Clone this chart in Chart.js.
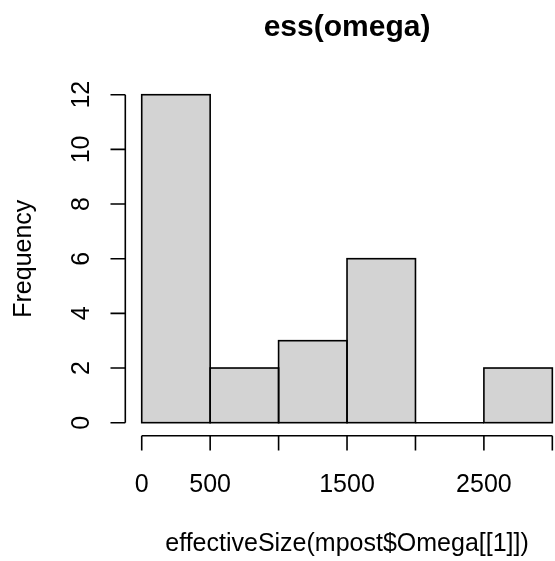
<!DOCTYPE html>
<html>
<head>
<meta charset="utf-8">
<script src="https://cdn.jsdelivr.net/npm/chart.js@4"></script>
<style>
    html, body { margin: 0; padding: 0; background: #fff; }
    #wrap { width: 555px; height: 561px; }
</style>
</head>
<body>
<div id="wrap"><canvas id="histChart" width="555" height="561"></canvas></div>
<script>
// histogram data
const binEdges = [0, 500, 1000, 1500, 2000, 2500, 3000];
const counts = [12, 2, 3, 6, 0, 2];
const xTicks = [0, 500, 1000, 1500, 2000, 2500, 3000];
const xTickLabels = ['0', '500', '', '1500', '', '2500', ''];
const yTicks = [0, 2, 4, 6, 8, 10, 12];
const titleText = 'ess(omega)';
const xTitle = 'effectiveSize(mpost$Omega[[1]])';
const yTitle = 'Frequency';

const barData = counts.map((c, i) => ({ x: (binEdges[i] + binEdges[i + 1]) / 2, y: c }));

const FONT = '"Liberation Sans", Arial, Helvetica, sans-serif';
const TICK_LEN = 14.8;

// draws bar outlines, R style axes and all the text
const rAxes = {
    id: 'rAxes',
    afterDraw(chart) {
        const { ctx, chartArea, scales: { x, y } } = chart;
        ctx.save();
        ctx.strokeStyle = '#000';
        ctx.fillStyle = '#000';
        ctx.lineWidth = 1.6;

        // bar outlines, centred on the edges
        chart.getDatasetMeta(0).data.forEach(bar => {
            const w = bar.width;
            const top = Math.min(bar.y, bar.base);
            ctx.strokeRect(bar.x - w / 2, top, w, Math.abs(bar.base - bar.y));
        });

        // x axis
        const axY = chartArea.bottom;
        ctx.beginPath();
        ctx.moveTo(x.getPixelForValue(xTicks[0]), axY);
        ctx.lineTo(x.getPixelForValue(xTicks[xTicks.length - 1]), axY);
        xTicks.forEach(v => {
            const px = x.getPixelForValue(v);
            ctx.moveTo(px, axY);
            ctx.lineTo(px, axY + TICK_LEN);
        });
        // y axis
        const axX = chartArea.left;
        ctx.moveTo(axX, y.getPixelForValue(yTicks[0]));
        ctx.lineTo(axX, y.getPixelForValue(yTicks[yTicks.length - 1]));
        yTicks.forEach(v => {
            const py = y.getPixelForValue(v);
            ctx.moveTo(axX, py);
            ctx.lineTo(axX - TICK_LEN, py);
        });
        ctx.stroke();

        ctx.font = '25px ' + FONT;
        ctx.textAlign = 'center';
        ctx.textBaseline = 'alphabetic';
        xTicks.forEach((v, i) => {
            if (xTickLabels[i]) ctx.fillText(xTickLabels[i], x.getPixelForValue(v), axY + 56);
        });
        const midX = (chartArea.left + x.getPixelForValue(3120)) / 2;
        ctx.fillText(xTitle, midX, axY + 115);

        yTicks.forEach(v => {
            ctx.save();
            ctx.translate(axX - 36.5, y.getPixelForValue(v));
            ctx.rotate(-Math.PI / 2);
            ctx.fillText(String(v), 0, 0);
            ctx.restore();
        });
        ctx.save();
        ctx.translate(axX - 94.5, (chartArea.top + chartArea.bottom) / 2);
        ctx.rotate(-Math.PI / 2);
        ctx.fillText(yTitle, 0, 0);
        ctx.restore();

        ctx.font = 'bold 30px ' + FONT;
        ctx.fillText(titleText, midX, chartArea.top - 45.6);
        ctx.restore();
    }
};

new Chart(document.getElementById('histChart'), {
    type: 'bar',
    data: {
        datasets: [{
            data: barData,
            backgroundColor: '#d3d3d3',
            borderWidth: 0,
            barPercentage: 1,
            categoryPercentage: 1
        }]
    },
    options: {
        responsive: false,
        animation: false,
        layout: { padding: { left: 125.3, top: 81.6, right: 0, bottom: 125.2 } },
        scales: {
            x: { type: 'linear', min: -120, max: 3019.5, offset: false, display: false },
            y: { min: -0.48, max: 12.48, display: false }
        },
        plugins: {
            legend: { display: false },
            tooltip: { enabled: false }
        }
    },
    plugins: [rAxes]
});
</script>
</body>
</html>
